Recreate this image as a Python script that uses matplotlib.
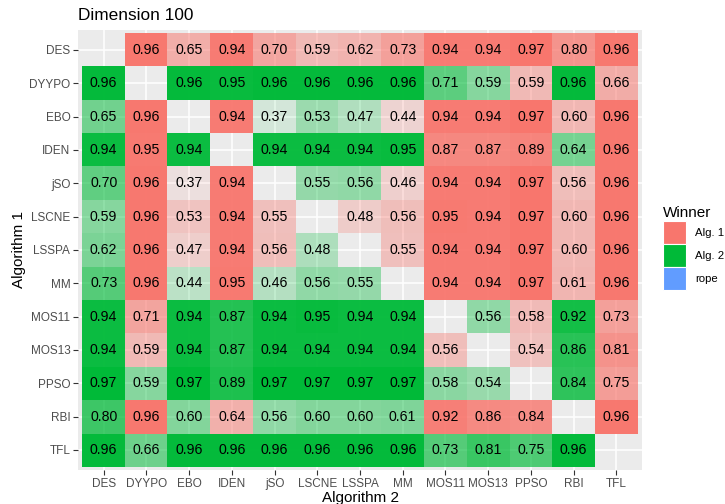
import matplotlib
matplotlib.use("Agg")
import matplotlib.pyplot as plt
from matplotlib.patches import Patch
import numpy as np
from matplotlib.colors import to_rgb

plt.rcParams['font.family'] = ['Liberation Sans', 'DejaVu Sans']

algorithms = ["DES", "DYYPO", "EBO", "IDEN", "jSO", "LSCNE", "LSSPA", "MM",
              "MOS11", "MOS13", "PPSO", "RBI", "TFL"]

# probability values (row = Algorithm 1, column = Algorithm 2); None = diagonal
values = [
    [None, 0.96, 0.65, 0.94, 0.70, 0.59, 0.62, 0.73, 0.94, 0.94, 0.97, 0.80, 0.96],
    [0.96, None, 0.96, 0.95, 0.96, 0.96, 0.96, 0.96, 0.71, 0.59, 0.59, 0.96, 0.66],
    [0.65, 0.96, None, 0.94, 0.37, 0.53, 0.47, 0.44, 0.94, 0.94, 0.97, 0.60, 0.96],
    [0.94, 0.95, 0.94, None, 0.94, 0.94, 0.94, 0.95, 0.87, 0.87, 0.89, 0.64, 0.96],
    [0.70, 0.96, 0.37, 0.94, None, 0.55, 0.56, 0.46, 0.94, 0.94, 0.97, 0.56, 0.96],
    [0.59, 0.96, 0.53, 0.94, 0.55, None, 0.48, 0.56, 0.95, 0.94, 0.97, 0.60, 0.96],
    [0.62, 0.96, 0.47, 0.94, 0.56, 0.48, None, 0.55, 0.94, 0.94, 0.97, 0.60, 0.96],
    [0.73, 0.96, 0.44, 0.95, 0.46, 0.56, 0.55, None, 0.94, 0.94, 0.97, 0.61, 0.96],
    [0.94, 0.71, 0.94, 0.87, 0.94, 0.95, 0.94, 0.94, None, 0.56, 0.58, 0.92, 0.73],
    [0.94, 0.59, 0.94, 0.87, 0.94, 0.94, 0.94, 0.94, 0.56, None, 0.54, 0.86, 0.81],
    [0.97, 0.59, 0.97, 0.89, 0.97, 0.97, 0.97, 0.97, 0.58, 0.54, None, 0.84, 0.75],
    [0.80, 0.96, 0.60, 0.64, 0.56, 0.60, 0.60, 0.61, 0.92, 0.86, 0.84, None, 0.96],
    [0.96, 0.66, 0.96, 0.96, 0.96, 0.96, 0.96, 0.96, 0.73, 0.81, 0.75, 0.96, None],
]

# winner per cell: 1 = Alg. 1, 2 = Alg. 2
winners = [
    [0, 1, 1, 1, 1, 1, 1, 1, 1, 1, 1, 1, 1],
    [2, 0, 2, 2, 2, 2, 2, 2, 2, 2, 1, 2, 1],
    [2, 1, 0, 1, 2, 2, 2, 1, 1, 1, 1, 1, 1],
    [2, 1, 2, 0, 2, 2, 2, 2, 1, 1, 1, 2, 1],
    [2, 1, 1, 1, 0, 2, 2, 1, 1, 1, 1, 1, 1],
    [2, 1, 1, 1, 1, 0, 1, 1, 1, 1, 1, 1, 1],
    [2, 1, 1, 1, 1, 2, 0, 1, 1, 1, 1, 1, 1],
    [2, 1, 2, 1, 2, 2, 2, 0, 1, 1, 1, 1, 1],
    [2, 1, 2, 2, 2, 2, 2, 2, 0, 2, 1, 2, 1],
    [2, 1, 2, 2, 2, 2, 2, 2, 1, 0, 1, 2, 1],
    [2, 2, 2, 2, 2, 2, 2, 2, 2, 2, 0, 2, 1],
    [2, 1, 2, 1, 2, 2, 2, 2, 1, 1, 1, 0, 1],
    [2, 2, 2, 2, 2, 2, 2, 2, 2, 2, 2, 2, 0],
]

legend_labels = ["Alg. 1", "Alg. 2", "rope"]
legend_colors = ["#F8766D", "#00BA38", "#619CFF"]

W, H = 725, 504
fig = plt.figure(figsize=(W / 100, H / 100), dpi=100)
ax = fig.add_axes([78 / W, (H - 470) / H, (642 - 78) / W, (470 - 30) / H])
ax.set_facecolor("#EBEBEB")

n = len(algorithms)
vals = np.array([[np.nan if v is None else v for v in row] for row in values], dtype=float)
vmin, vmax = np.nanmin(vals), np.nanmax(vals)
rgba = np.zeros((n, n, 4))
for i in range(n):
    for j in range(n):
        w = winners[i][j]
        if w == 0 or np.isnan(vals[i, j]):
            continue
        c = to_rgb(legend_colors[w - 1])
        a = 0.1 + 0.9 * (vals[i, j] - vmin) / (vmax - vmin)
        rgba[i, j] = (*c, a)
        ax.text(j, i, f"{vals[i, j]:.2f}", ha="center", va="center",
                fontsize=10.2, color="black", zorder=3)

ax.imshow(rgba, extent=(-0.5, n - 0.5, n - 0.5, -0.5), interpolation="nearest",
          aspect="auto", zorder=1)
ax.set_xlim(-0.6, n - 0.4)
ax.set_ylim(n - 0.4, -0.6)

ax.set_xticks(range(n))
ax.set_xticklabels(algorithms)
ax.set_yticks(range(n))
ax.set_yticklabels(algorithms)
ax.set_axisbelow(True)
ax.grid(True, color="white", linewidth=1.1, zorder=0.5)
for s in ax.spines.values():
    s.set_visible(False)
ax.tick_params(axis="both", length=3.5, width=0.8, color="#333333",
               labelcolor="#4D4D4D", labelsize=8.5, pad=2)

ax.set_xlabel("Algorithm 2", fontsize=11, color="black", labelpad=1)
ax.set_ylabel("Algorithm 1", fontsize=11, color="black", labelpad=2)
ax.set_title("Dimension 100", fontsize=12.4, loc="left", pad=7, color="black")

handles = [Patch(facecolor=c, edgecolor="white", linewidth=0.8) for c in legend_colors]
leg = fig.legend(handles, legend_labels, title="Winner", loc="upper left",
                 bbox_to_anchor=(660 / W, 1 - 203 / H), frameon=False,
                 fontsize=8.2, title_fontsize=11, handlelength=2.02,
                 handleheight=2.73, labelspacing=0.02, handletextpad=0.75,
                 borderaxespad=0, borderpad=0.3)
leg._legend_box.align = "left"

fig.savefig("out.png", dpi=100)
